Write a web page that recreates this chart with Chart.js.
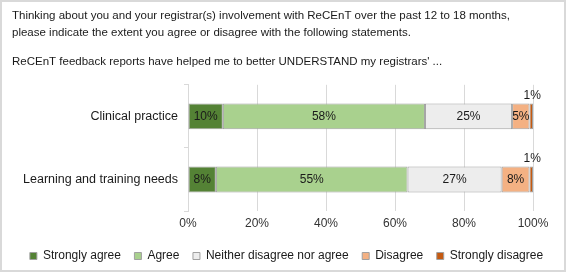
<!DOCTYPE html>
<html>
<head>
<meta charset="utf-8">
<script src="https://cdn.jsdelivr.net/npm/chart.js@4/dist/chart.umd.min.js"></script>
<style>
html,body{margin:0;padding:0;background:#fff;}
#wrap{position:relative;width:566px;height:272px;}
</style>
</head>
<body>
<div id="wrap"><canvas id="c" width="566" height="272"></canvas></div>
<script>
// ---- data ----
const titleLines = [
  "Thinking about you and your registrar(s) involvement with ReCEnT over the past 12 to 18 months,",
  "please indicate the extent you agree or disagree with the following statements."
];
const subtitleText = "ReCEnT feedback reports have helped me to better UNDERSTAND my registrars' ...";
const categories = ["Clinical practice", "Learning and training needs"];
const seriesNames = ["Strongly agree", "Agree", "Neither disagree nor agree", "Disagree", "Strongly disagree"];
const stronglyAgree = [10, 8];
const agree = [58, 55];
const neither = [25, 27];
const disagree = [5, 8];
const stronglyDisagree = [1, 1];
const xTickValues = [0, 20, 40, 60, 80, 100];

const seriesValues = [stronglyAgree, agree, neither, disagree, stronglyDisagree];
const colors = ["#548235", "#a9d18e", "#ededed", "#f4b183", "#c55a11"];

// 100% stacked: normalise each category by its total
const totals = categories.map((_, i) => seriesValues.reduce((s, arr) => s + arr[i], 0));

const datasets = seriesValues.map((vals, k) => ({
  label: seriesNames[k],
  data: vals.map((v, i) => v / totals[i] * 100),
  raw: vals,
  backgroundColor: colors[k],
  borderColor: "#a0a0a0",
  borderWidth: 1,
  borderSkipped: false,
  categoryPercentage: 1,
  barPercentage: 0.41
}));

const FONT = "'Liberation Sans', Arial, Helvetica, sans-serif";

const labelPlugin = {
  id: "segLabels",
  afterDatasetsDraw(chart) {
    const ctx = chart.ctx;
    ctx.save();
    ctx.font = "12px " + FONT;
    ctx.fillStyle = "#1a1a1a";
    ctx.textAlign = "center";
    ctx.textBaseline = "middle";
    chart.data.datasets.forEach((ds, di) => {
      const meta = chart.getDatasetMeta(di);
      meta.data.forEach((el, i) => {
        const v = ds.raw[i];
        const txt = v + "%";
        const left = Math.min(el.base, el.x), right = Math.max(el.base, el.x);
        const w = right - left;
        const cx = (left + right) / 2;
        if (w < 15) {
          ctx.fillText(txt, cx + 1, el.y - el.height / 2 - 7.5);
        } else {
          ctx.fillText(txt, cx, el.y + 0.5);
        }
      });
    });
    ctx.restore();
  }
};

const framePlugin = {
  id: "frame",
  afterDraw(chart) {
    const ctx = chart.ctx;
    ctx.save();
    ctx.strokeStyle = "#d9d9d9";
    ctx.lineWidth = 2;
    ctx.strokeRect(1, 1, chart.width - 2, chart.height - 2);
    ctx.restore();
  }
};

new Chart(document.getElementById("c"), {
  type: "bar",
  data: { labels: categories, datasets },
  plugins: [labelPlugin, framePlugin],
  options: {
    indexAxis: "y",
    responsive: false,
    animation: false,
    devicePixelRatio: 1,
    layout: { padding: { left: 12, right: 5, top: 0, bottom: 0 } },
    plugins: {
      title: {
        display: true,
        text: titleLines,
        align: "start",
        color: "#1a1a1a",
        font: { family: FONT, size: 11.5, weight: "normal", lineHeight: 1.45 },
        padding: { top: 7.5, bottom: 6 }
      },
      subtitle: {
        display: true,
        text: subtitleText,
        align: "start",
        color: "#1a1a1a",
        font: { family: FONT, size: 11.5, weight: "normal", lineHeight: 1.45 },
        padding: { top: 7, bottom: 14.3 }
      },
      legend: {
        position: "bottom",
        align: "center",
        labels: {
          boxWidth: 7,
          boxHeight: 7,
          padding: 13.5,
          color: "#1a1a1a",
          font: { family: FONT, size: 12 }
        }
      },
      tooltip: { enabled: false }
    },
    scales: {
      x: {
        stacked: true,
        min: 0,
        max: 100,
        afterBuildTicks(scale) { scale.ticks = xTickValues.map(v => ({ value: v })); },
        afterFit(scale) { scale.paddingRight = 33; },
        ticks: {
          callback: v => v + "%",
          color: "#333",
          font: { family: FONT, size: 12 },
          padding: 5.5
        },
        grid: { color: "#d9d9d9", drawTicks: false },
        border: { display: false }
      },
      y: {
        stacked: true,
        afterFit(scale) { scale.width = 176; },
        ticks: {
          color: "#1a1a1a",
          font: { family: FONT, size: 12.5 },
          padding: 6
        },
        grid: { drawOnChartArea: false, drawTicks: true, tickLength: 4, color: "#d9d9d9" },
        border: { display: true, color: "#d9d9d9" }
      }
    }
  }
});
</script>
</body>
</html>
